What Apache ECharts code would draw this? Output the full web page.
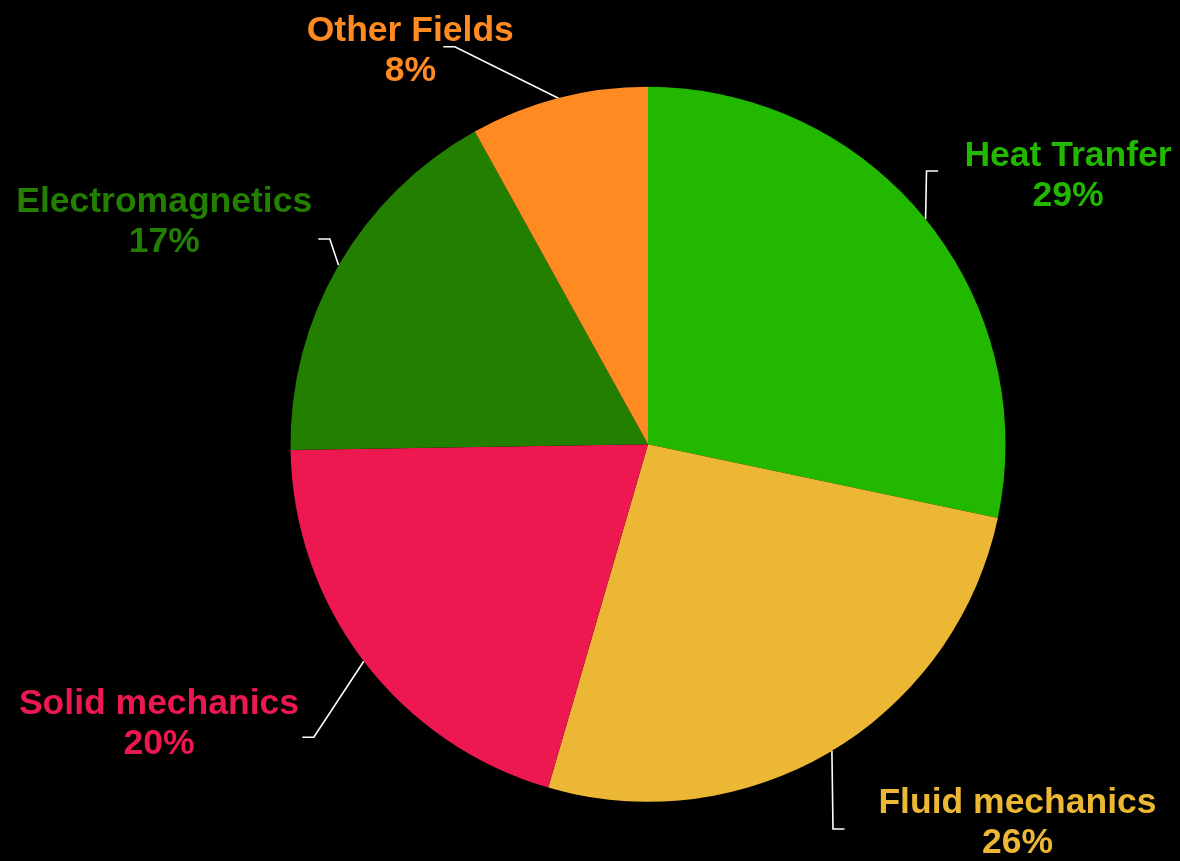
<!DOCTYPE html>
<html>
<head>
<meta charset="utf-8">
<style>
  html, body { margin: 0; padding: 0; background: #000; }
  #chart { width: 1180px; height: 861px; }
</style>
<script src="https://cdn.jsdelivr.net/npm/echarts@6/dist/echarts.min.js"></script>
</head>
<body>
<div id="chart"></div>
<script>
// ---- data ----
const categories = ["Heat Tranfer", "Fluid mechanics", "Solid mechanics", "Electromagnetics", "Other Fields"];
const values = [28.3, 26.2, 20.25, 17.2, 8.05];
const percentLabels = ["29%", "26%", "20%", "17%", "8%"];
const colors = ["#22B800", "#EBB734", "#EE1850", "#237F00", "#FF8A22"];

// ---- layout (label placement, not data) ----
const CENTER = [648, 444.3];
const RADIUS = 357.5;
const labelCenters = [[1068, 176], [1017.5, 823.5], [159, 724.7], [164.2, 222.3], [410.3, 51.3]];
const leaderEnds = [[938, 171], [844.5, 829], [302.3, 737.3], [318.3, 239], [443.3, 46.7]];
const elbowDir = [-1, -1, 1, 1, 1];

const total = values.reduce((a, b) => a + b, 0);
function edgePoint(i) {
  let cum = 0;
  for (let k = 0; k < i; k++) cum += values[k];
  const mid = (cum + values[i] / 2) / total * 2 * Math.PI;
  return [CENTER[0] + RADIUS * Math.sin(mid), CENTER[1] - RADIUS * Math.cos(mid)];
}

const chart = echarts.init(document.getElementById('chart'), null, { renderer: 'canvas' });
chart.setOption({
  backgroundColor: '#000000',
  animation: false,
  series: [{
    type: 'pie',
    center: CENTER,
    radius: RADIUS,
    startAngle: 90,
    clockwise: true,
    avoidLabelOverlap: false,
    emphasis: { disabled: true },
    data: categories.map((name, i) => ({
      name: name,
      value: values[i],
      itemStyle: { color: colors[i] },
      label: { color: colors[i] }
    })),
    label: {
      show: true,
      position: 'outside',
      formatter: p => p.name + '\n' + percentLabels[p.dataIndex],
      fontFamily: '"Liberation Sans", Arial, sans-serif',
      fontWeight: 'bold',
      fontSize: 35.5,
      lineHeight: 40,
      align: 'center'
    },
    labelLine: {
      show: true,
      length: 10,
      length2: 10,
      smooth: false,
      lineStyle: { color: '#ffffff', width: 1.6 }
    },
    labelLayout: function (params) {
      const i = params.dataIndex;
      const end = leaderEnds[i];
      const elbow = [end[0] + elbowDir[i] * 11.5, end[1]];
      return {
        x: labelCenters[i][0],
        y: labelCenters[i][1],
        align: 'center',
        verticalAlign: 'middle',
        labelLinePoints: [edgePoint(i), elbow, end]
      };
    }
  }]
});
</script>
</body>
</html>
